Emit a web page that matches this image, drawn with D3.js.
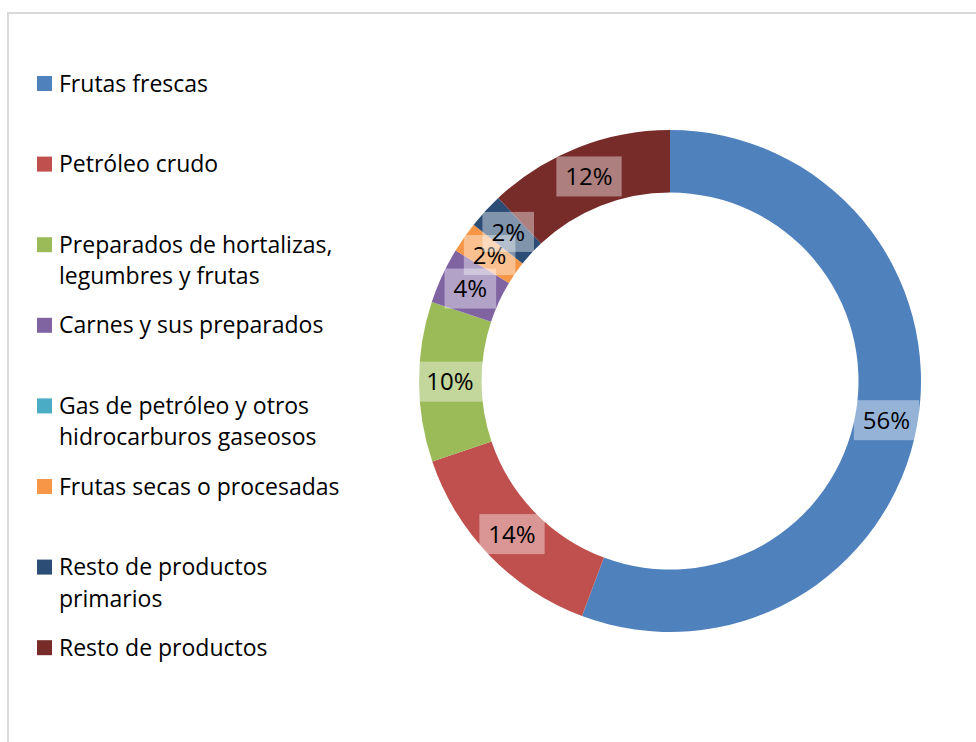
<!DOCTYPE html>
<html>
<head>
<meta charset="utf-8">
<script src="https://cdn.jsdelivr.net/npm/d3@7"></script>
<style>
  body { margin: 0; background: #fff; }
  svg text { font-family: "Open Sans", Lato, sans-serif; fill: #000; }
</style>
</head>
<body>
<svg id="chart"></svg>
<script>
// categories in drawing order (clockwise from 12 o'clock)
const categories = [
    "Frutas frescas",
    "Petróleo crudo",
    "Preparados de hortalizas, legumbres y frutas",
    "Carnes y sus preparados",
    "Gas de petróleo y otros hidrocarburos gaseosos",
    "Frutas secas o procesadas",
    "Resto de productos primarios",
    "Resto de productos"
];
// how the legend wraps each name
const legendLines = [
    ["Frutas frescas"],
    ["Petróleo crudo"],
    ["Preparados de hortalizas,", "legumbres y frutas"],
    ["Carnes y sus preparados"],
    ["Gas de petróleo y otros", "hidrocarburos gaseosos"],
    ["Frutas secas o procesadas"],
    ["Resto de productos", "primarios"],
    ["Resto de productos"]
];
const shares = [55.7, 14.1, 10.3, 3.6, 0, 2.0, 2.3, 12.0];
const colors = ["#4F81BD", "#C0504D", "#9BBB59", "#8064A2", "#4BACC6", "#F79646", "#2C4D75", "#772C2A"];

const W = 976, H = 742;
const svg = d3.select("#chart").attr("width", W).attr("height", H);

// chart frame
svg.append("rect")
    .attr("x", 8).attr("y", 13)
    .attr("width", W).attr("height", H)
    .attr("fill", "none")
    .attr("stroke", "#D9D9D9")
    .attr("stroke-width", 2);

const data = categories.map((c, i) => ({ name: c, value: shares[i], color: colors[i], lines: legendLines[i] }));

const cx = 670, cy = 381;
const outerR = 251, innerR = 188.5, labelR = 220;

const pie = d3.pie().value(d => d.value).sort(null);
const arc = d3.arc().innerRadius(innerR).outerRadius(outerR);
const labelArc = d3.arc().innerRadius(labelR).outerRadius(labelR);
const arcs = pie(data);

const donut = svg.append("g").attr("transform", `translate(${cx},${cy})`);

donut.selectAll("path.slice")
    .data(arcs)
    .enter().append("path")
    .attr("class", "slice")
    .attr("d", arc)
    .attr("fill", d => d.data.color);

// data labels with translucent white boxes
const fmt = v => Math.round(v) + "%";
const labels = donut.selectAll("g.lbl")
    .data(arcs.filter(d => d.data.value > 0))
    .enter().append("g")
    .attr("class", "lbl")
    .attr("transform", d => `translate(${labelArc.centroid(d)})`);

labels.each(function (d) {
    const g = d3.select(this);
    const t = g.append("text")
        .attr("text-anchor", "middle")
        .attr("dy", "0.36em")
        .style("font-size", "24px")
        .text(fmt(d.data.value));
    const w = t.node().getComputedTextLength() + 18;
    g.insert("rect", "text")
        .attr("x", -w / 2).attr("y", -20)
        .attr("width", w).attr("height", 40)
        .attr("fill", "#fff")
        .attr("fill-opacity", 0.4);
});

// legend
const legendY = d3.scaleLinear().domain([0, categories.length - 1]).range([83.5, 647.7]);
const legend = svg.selectAll("g.legend")
    .data(data)
    .enter().append("g")
    .attr("class", "legend")
    .attr("transform", (d, i) => `translate(37,${legendY(i)})`);

legend.append("rect")
    .attr("x", 0).attr("y", -7.5)
    .attr("width", 15).attr("height", 15)
    .attr("fill", d => d.color);

legend.each(function (d) {
    const t = d3.select(this).append("text")
        .attr("x", 22)
        .style("font-size", "23px");
    d.lines.forEach((line, k) => {
        t.append("tspan")
            .attr("x", 22)
            .attr("y", k * 31.5)
            .attr("dy", "0.35em")
            .text(line);
    });
});
</script>
</body>
</html>
